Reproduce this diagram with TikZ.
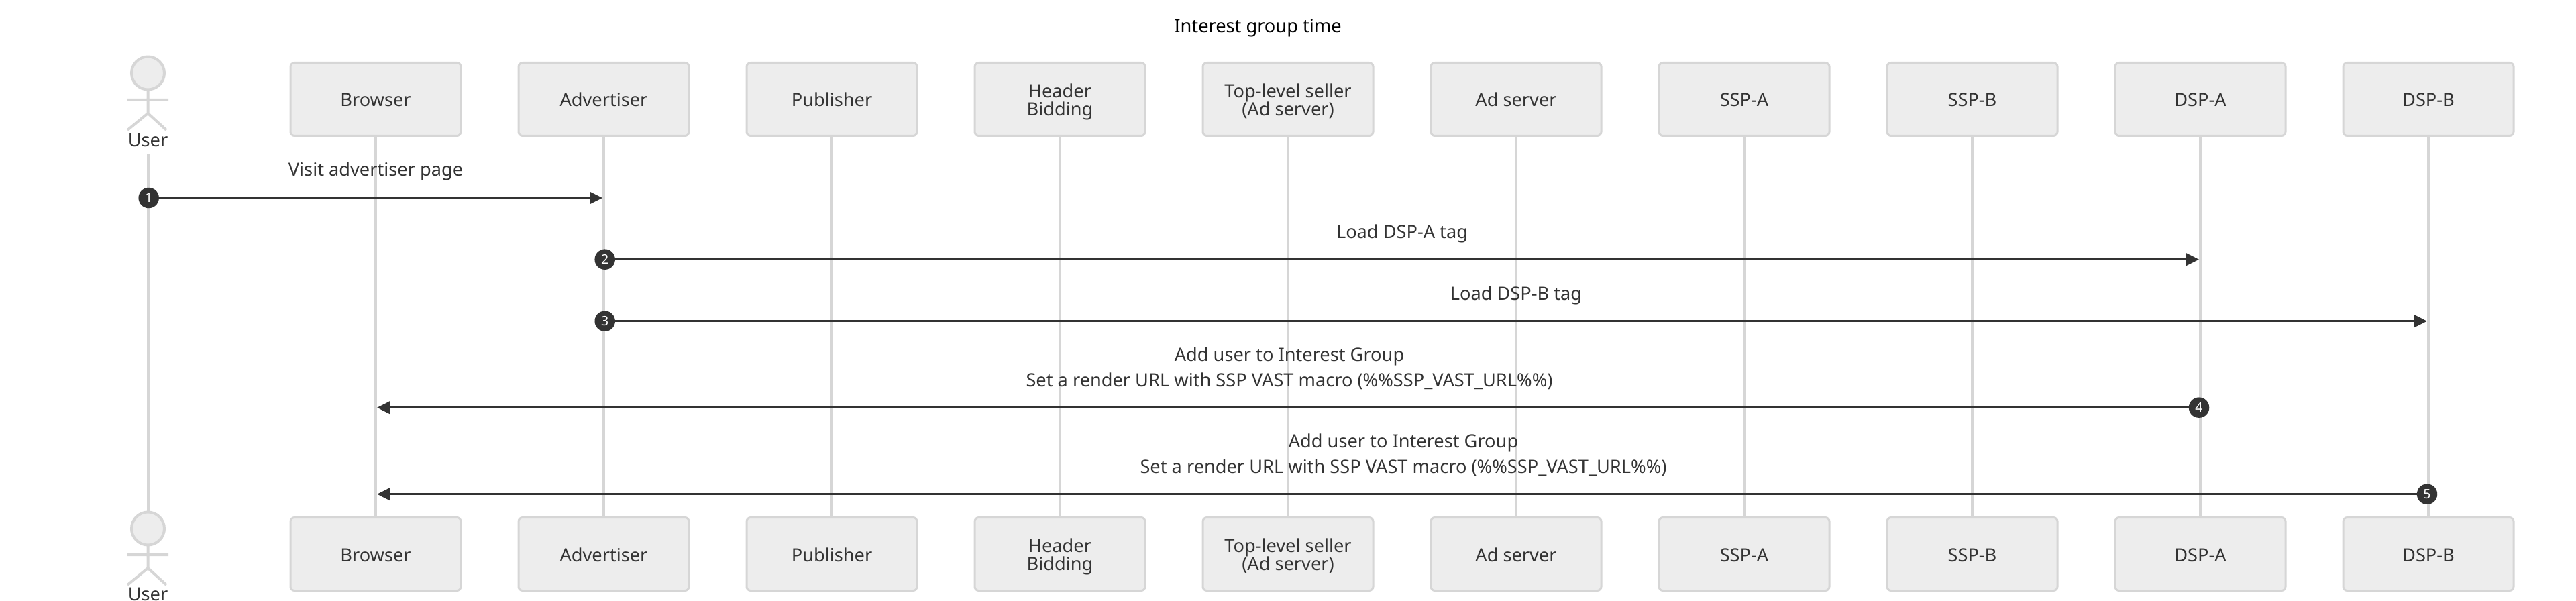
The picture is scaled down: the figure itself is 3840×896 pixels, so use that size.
\documentclass[tikz,border=0pt]{standalone}
\usepackage{fontspec}
\setmainfont{Noto Sans}
\usetikzlibrary{arrows.meta}
\definecolor{boxfill}{HTML}{EDEDED}
\definecolor{boxline}{HTML}{D6D6D6}
\definecolor{ink}{HTML}{333333}
\tikzset{
  x=1pt,y=-1pt,
  actorbox/.style={draw=boxline,fill=boxfill,line width=3pt,rounded corners=6pt,minimum width=254pt,minimum height=109pt,inner sep=0pt,outer sep=0pt,align=center,text=ink,font=\fontsize{27.2}{27}\selectfont},
  lifeline/.style={draw=boxline,line width=4pt},
  head/.style={circle,draw=boxline,fill=boxfill,line width=4pt,minimum size=49pt,inner sep=0pt,outer sep=0pt},
  limb/.style={draw=boxline,line width=4pt},
  msg/.style={draw=ink,line width=3.3pt,-{Triangle[length=19pt,width=18pt]},shorten >=0pt},
  msgtext/.style={text=ink,font=\fontsize{27.2}{37.5}\selectfont,align=center,inner sep=0pt},
  marker/.style={circle,fill=ink,minimum size=30.5pt,inner sep=0pt,text=white,font=\fontsize{19.5}{20}\selectfont},
  usertext/.style={text=ink,font=\fontsize{27.2}{28}\selectfont,inner sep=0pt},
}
\newcommand{\boxline}[1]{\raisebox{0pt}[24pt][2pt]{#1}}
\begin{document}
\begin{tikzpicture}
\useasboundingbox (0,0) rectangle (3840,896);
% title
\node[text=black,font=\fontsize{27.2}{28}\selectfont,inner sep=0pt] (title) at (1875,42) {Interest group time};
% top boxes
\node[actorbox] (tB) at (560,148) {\boxline{Browser}};
\node[actorbox] (tA) at (900,148) {\boxline{Advertiser}};
\node[actorbox] (tP) at (1240,148) {\boxline{Publisher}};
\node[actorbox] (tH) at (1580,148) {\boxline{Header}\\\boxline{Bidding}};
\node[actorbox] (tT) at (1920,148) {\boxline{Top-level seller}\\\boxline{(Ad server)}};
\node[actorbox] (tS) at (2260,148) {\boxline{Ad server}};
\node[actorbox] (tSA) at (2600,148) {\boxline{SSP-A}};
\node[actorbox] (tSB) at (2940,148) {\boxline{SSP-B}};
\node[actorbox] (tDA) at (3280,148) {\boxline{DSP-A}};
\node[actorbox] (tDB) at (3620,148) {\boxline{DSP-B}};
% bottom boxes
\node[actorbox] (bB) at (560,826) {\boxline{Browser}};
\node[actorbox] (bA) at (900,826) {\boxline{Advertiser}};
\node[actorbox] (bP) at (1240,826) {\boxline{Publisher}};
\node[actorbox] (bH) at (1580,826) {\boxline{Header}\\\boxline{Bidding}};
\node[actorbox] (bT) at (1920,826) {\boxline{Top-level seller}\\\boxline{(Ad server)}};
\node[actorbox] (bS) at (2260,826) {\boxline{Ad server}};
\node[actorbox] (bSA) at (2600,826) {\boxline{SSP-A}};
\node[actorbox] (bSB) at (2940,826) {\boxline{SSP-B}};
\node[actorbox] (bDA) at (3280,826) {\boxline{DSP-A}};
\node[actorbox] (bDB) at (3620,826) {\boxline{DSP-B}};
% user figures
\node[usertext] (uT) at (220.5,209) {User};
\node[usertext] (uB) at (220.5,885.5) {User};
\node[head] (hT) at (220.5,109) {};
\node[head] (hB) at (220.5,788) {};
\coordinate (aTl) at (190,149); \coordinate (aTr) at (251,149);
\coordinate (cT) at (220.5,169); \coordinate (lTl) at (190,194); \coordinate (lTr) at (248,194);
\coordinate (aBl) at (190,827); \coordinate (aBr) at (251,827);
\coordinate (cB) at (220.5,847); \coordinate (lBl) at (190,872); \coordinate (lBr) at (248,872);
\draw[limb] (hT.south) -- (cT) (aTl) -- (aTr) (lTl) -- (cT) -- (lTr);
\draw[limb] (hB.south) -- (cB) (aBl) -- (aBr) (lBl) -- (cB) -- (lBr);
% lifelines
\coordinate (uStart) at (220.5,229);
\draw[lifeline] (uStart) -- (hB.north);
\foreach \n in {B,A,P,H,T,S,SA,SB,DA,DB}{
  \draw[lifeline] (t\n.south) -- (b\n.north);
}
% markers and message ends
\node[marker] (n1) at (221.7,295) {1};
\node[marker] (n2) at (901.7,386.7) {2};
\node[marker] (n3) at (901.7,478.7) {3};
\node[marker] (n4) at (3278,607.7) {4};
\node[marker] (n5) at (3618,736.7) {5};
\coordinate (m1b) at (898,295);
\coordinate (m2b) at (3278,386.7);
\coordinate (m3b) at (3618,478.7);
\coordinate (m4b) at (562,607.7);
\coordinate (m5b) at (562,736.7);
\draw[msg] (n1) -- (m1b);
\draw[msg] (n2) -- (m2b);
\draw[msg] (n3) -- (m3b);
\draw[msg] (n4) -- (m4b);
\draw[msg] (n5) -- (m5b);
% message text
\node[msgtext] (t1) at (560,255.5) {Visit advertiser page};
\node[msgtext] (t2) at (2090,348.5) {Load DSP-A tag};
\node[msgtext] (t3) at (2260,440.5) {Load DSP-B tag};
\node[msgtext] (t4) at (1922,549.5) {Add user to Interest Group\\Set a render URL with SSP VAST macro (\%\%SSP\_VAST\_URL\%\%)};
\node[msgtext] (t5) at (2092,678.5) {Add user to Interest Group\\Set a render URL with SSP VAST macro (\%\%SSP\_VAST\_URL\%\%)};
\end{tikzpicture}
\end{document}
